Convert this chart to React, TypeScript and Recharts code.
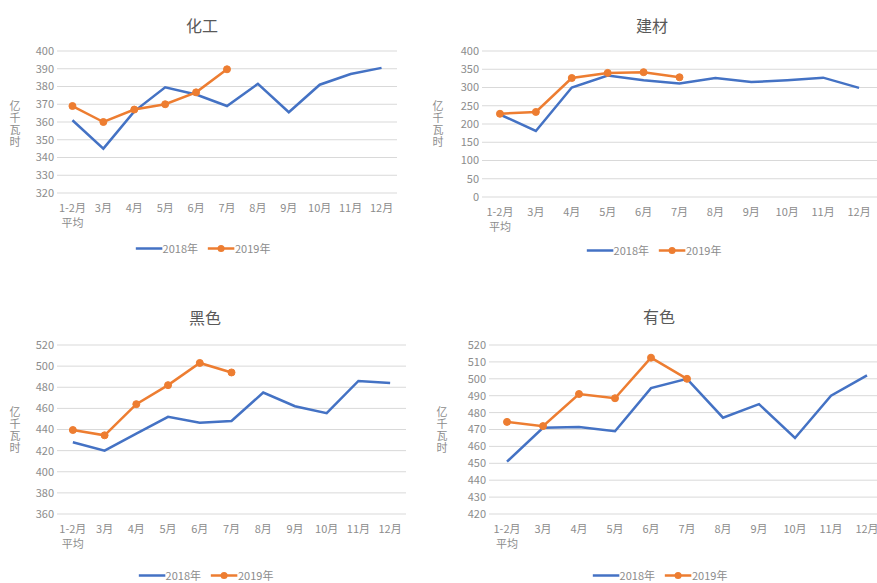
import { LineChart, Line, XAxis, YAxis, CartesianGrid } from "recharts";

const months = ["1-2月\n平均", "3月", "4月", "5月", "6月", "7月", "8月", "9月", "10月", "11月", "12月"];

const huagong2018 = [361, 345, 366, 379.5, 375.5, 369, 381.5, 365.5, 381, 387, 390.5];
const huagong2019 = [369, 360, 367, 370, 376.7, 389.7];
const jiancai2018 = [226, 181, 300, 333, 320, 311, 326, 315, 320, 327, 299];
const jiancai2019 = [228, 233, 326, 340, 342, 328];
const heise2018 = [428, 420, 436, 452, 446.5, 448, 475, 462, 455.5, 486, 484];
const heise2019 = [439.5, 434.5, 464, 482, 503, 494];
const youse2018 = [451, 471, 471.5, 469, 494.5, 500, 477, 485, 465, 490, 502];
const youse2019 = [474.5, 472, 491, 488.5, 512.5, 500];

const huagongTicks = [320, 330, 340, 350, 360, 370, 380, 390, 400];
const jiancaiTicks = [0, 50, 100, 150, 200, 250, 300, 350, 400];
const heiseTicks = [360, 380, 400, 420, 440, 460, 480, 500, 520];
const youseTicks = [420, 430, 440, 450, 460, 470, 480, 490, 500, 510, 520];

const BLUE = "#4472C4";
const ORANGE = "#ED7D31";
const GREY = "#8c8c8c";

const toRows = (a: number[], b: number[]) =>
  months.map((m, i) => ({ month: m, y2018: a[i], y2019: b[i] }));

function MonthTick({ x, y, payload }: any) {
  const lines = String(payload.value).split("\n");
  return (
    <text x={x} y={y} textAnchor="middle" fill={GREY} fontSize={11}>
      {lines.map((s, i) => (
        <tspan key={i} x={x} dy={i === 0 ? 19 : 15}>
          {s}
        </tspan>
      ))}
    </text>
  );
}

function Legend2({ cx, cy }: { cx: number; cy: number }) {
  return (
    <div
      style={{
        position: "absolute",
        left: cx,
        top: cy,
        transform: "translate(-50%,-50%)",
        display: "flex",
        alignItems: "center",
        fontSize: 11,
        lineHeight: "13px",
        color: GREY,
        whiteSpace: "nowrap",
      }}
    >
      <svg width={27} height={10}>
        <line x1={0} y1={5} x2={27} y2={5} stroke={BLUE} strokeWidth={2.5} />
      </svg>
      <span style={{ marginRight: 10 }}>2018年</span>
      <svg width={27} height={10}>
        <line x1={0} y1={5} x2={27} y2={5} stroke={ORANGE} strokeWidth={2.5} />
        <circle cx={13.5} cy={5} r={3.5} fill={ORANGE} />
      </svg>
      <span>2019年</span>
    </div>
  );
}

function Panel({ box, plot, title, titleAt, labelAt, legendAt, data, ticks }: any) {
  const [bx, by, w, h] = box;
  const [pl, pt, pr, pb] = plot;
  const xAxisH = 40;
  const pad = (pr - pl) / 22;
  return (
    <>
      <div
        style={{
          position: "absolute",
          left: titleAt[0],
          top: titleAt[1],
          transform: "translate(-50%,-50%)",
          fontSize: 16,
          color: "#595959",
          whiteSpace: "nowrap",
        }}
      >
        {title}
      </div>
      <div
        style={{
          position: "absolute",
          left: labelAt[0],
          top: labelAt[1],
          transform: "translate(-50%,-50%)",
          writingMode: "vertical-rl",
          fontSize: 11,
          lineHeight: "12px",
          letterSpacing: 1,
          color: GREY,
          whiteSpace: "nowrap",
        }}
      >
        亿千瓦时
      </div>
      <div style={{ position: "absolute", left: bx, top: by }}>
        <LineChart
          width={w}
          height={h}
          data={data}
          margin={{ top: pt - by, right: bx + w - pr, left: 0, bottom: by + h - pb - xAxisH }}
        >
          <CartesianGrid vertical={false} stroke="#d9d9d9" />
          <XAxis
            dataKey="month"
            height={xAxisH}
            axisLine={false}
            tickLine={false}
            tickSize={0}
            tickMargin={0}
            interval={0}
            padding={{ left: pad, right: pad }}
            tick={<MonthTick />}
          />
          <YAxis
            width={pl - bx}
            domain={[ticks[0], ticks[ticks.length - 1]]}
            ticks={ticks}
            interval={0}
            axisLine={false}
            tickLine={false}
            tickSize={0}
            tickMargin={3}
            tick={{ fill: GREY, fontSize: 11 }}
          />
          <Line
            dataKey="y2018"
            stroke={BLUE}
            strokeWidth={2.5}
            dot={false}
            isAnimationActive={false}
          />
          <Line
            dataKey="y2019"
            stroke={ORANGE}
            strokeWidth={2.5}
            dot={{ r: 3.5, fill: ORANGE, stroke: ORANGE, strokeWidth: 1 }}
            isAnimationActive={false}
          />
        </LineChart>
      </div>
      <Legend2 cx={legendAt[0]} cy={legendAt[1]} />
    </>
  );
}

export default function App() {
  return (
    <div
      style={{
        position: "absolute",
        left: 0,
        top: 0,
        width: 877,
        height: 583,
        overflow: "hidden",
        background: "#fff",
        fontFamily: '"Noto Sans CJK SC", "Noto Sans", sans-serif',
      }}
    >
      <Panel
        box={[0, 0, 437, 290]}
        plot={[57, 51, 397, 193]}
        title="化工"
        titleAt={[202, 25]}
        labelAt={[15, 124]}
        legendAt={[203, 248]}
        data={toRows(huagong2018, huagong2019)}
        ticks={huagongTicks}
      />
      <Panel
        box={[437, 0, 440, 290]}
        plot={[482, 51, 877, 197]}
        title="建材"
        titleAt={[652, 25]}
        labelAt={[438, 124]}
        legendAt={[654, 250]}
        data={toRows(jiancai2018, jiancai2019)}
        ticks={jiancaiTicks}
      />
      <Panel
        box={[0, 290, 437, 293]}
        plot={[57, 345, 406, 514]}
        title="黑色"
        titleAt={[205, 317]}
        labelAt={[15, 430]}
        legendAt={[206, 575]}
        data={toRows(heise2018, heise2019)}
        ticks={heiseTicks}
      />
      <Panel
        box={[437, 290, 450, 293]}
        plot={[489, 345, 885, 514]}
        title="有色"
        titleAt={[659, 316]}
        labelAt={[442, 430]}
        legendAt={[660, 575]}
        data={toRows(youse2018, youse2019)}
        ticks={youseTicks}
      />
    </div>
  );
}
